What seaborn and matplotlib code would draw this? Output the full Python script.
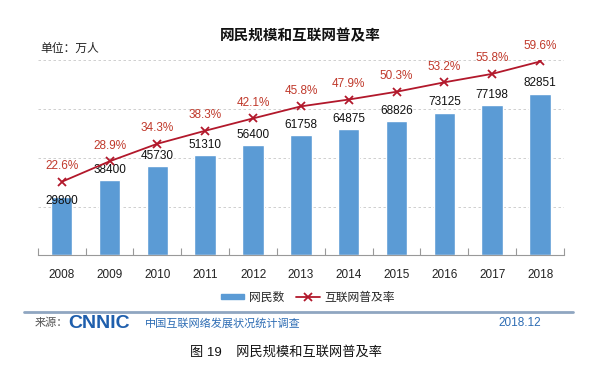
import numpy as np
import pandas as pd
import seaborn as sns
import matplotlib.pyplot as plt
from matplotlib.lines import Line2D
from matplotlib.patches import Patch

# data
years = ["2008", "2009", "2010", "2011", "2012", "2013", "2014", "2015", "2016", "2017", "2018"]
users = [29800, 38400, 45730, 51310, 56400, 61758, 64875, 68826, 73125, 77198, 82851]
rate = [22.6, 28.9, 34.3, 38.3, 42.1, 45.8, 47.9, 50.3, 53.2, 55.8, 59.6]

bar_color = "#5B9BD5"
line_color = "#B2182B"
label_red = "#C0392B"
blue_txt = "#2E6DB4"

sns.set_theme(style="white")
plt.rcParams['font.family'] = ['Liberation Sans', 'Noto Sans CJK SC', 'DejaVu Sans']

df = pd.DataFrame({'year': years, 'users': users, 'rate': rate})

fig = plt.figure(figsize=(6, 3.81), dpi=100)
ax = fig.add_axes([0.063, 0.330, 0.877, 0.512])

sns.barplot(data=df, x='year', y='users', color=bar_color, width=0.45,
            saturation=1, ax=ax, zorder=2)

ax2 = ax.twinx()
sns.lineplot(x=np.arange(len(years)), y=rate, ax=ax2, color=line_color,
             linewidth=1.3, marker='x', markersize=6, markeredgewidth=1.3,
             markeredgecolor=line_color, zorder=4)
ax2.set_ylim(0, 60)
ax2.axis('off')

# the twin shares the x ticker, so set ticks after both plots
ax.set_xlim(-0.5, len(years) - 0.5)
ax.set_xticks(np.arange(len(years)))
ax.set_xticklabels(years)
ax.set_xticks(np.arange(-0.5, len(years)), minor=True)
ax.set_ylim(0, 100000)
ax.set_yticks([0, 25000, 50000, 75000, 100000])
ax.yaxis.grid(True, linestyle=(0, (3, 3)), color="#c8c8c8", linewidth=0.6)
ax.set_axisbelow(True)
ax.tick_params(axis='y', which='both', left=False, right=False, length=0,
               labelleft=False)
ax.tick_params(axis='x', which='major', labelsize=8.5, pad=10, length=0,
               colors="#222222")
ax.tick_params(axis='x', which='minor', direction='in', length=5,
               color="#999999", width=0.8, bottom=True)
ax.set_xlabel("")
ax.set_ylabel("")
for s in ['top', 'right', 'left']:
    ax.spines[s].set_visible(False)
ax.spines['bottom'].set_color("#999999")
ax.spines['bottom'].set_linewidth(0.8)

for i, v in enumerate(users):
    if i == 0:
        ax.annotate(str(v), (i, v), xytext=(0, -3), textcoords='offset points',
                    ha='center', va='center', fontsize=8.5, color="#111111", zorder=5)
    else:
        ax.annotate(str(v), (i, v), xytext=(0, 3), textcoords='offset points',
                    ha='center', va='bottom', fontsize=8.5, color="#111111", zorder=5)

for i, r in enumerate(rate):
    ax2.annotate(f"{r}%", (i, r), xytext=(0, 7), textcoords='offset points',
                 ha='center', va='bottom', fontsize=8.5, color=label_red)

# titles
fig.text(0.5, 0.905, "网民规模和互联网普及率", ha='center', va='center',
         fontsize=10.5, fontweight='bold', color="#111111")
fig.text(0.068, 0.872, "单位：万人", ha='left', va='center', fontsize=8.5, color="#222222")

# legend
handles = [Patch(color=bar_color, label="网民数"),
           Line2D([0], [0], color=line_color, marker='x', markersize=6,
                  markeredgewidth=1.3, linewidth=1.3, label="互联网普及率")]
fig.legend(handles=handles, loc='center', bbox_to_anchor=(0.513, 0.218), ncol=2,
           frameon=False, fontsize=8.5, handlelength=2.0, handleheight=0.35,
           columnspacing=1.0, handletextpad=0.4)

# footer
fig.add_artist(Line2D([0.04, 0.955], [0.181, 0.181], color="#8FA6C1", linewidth=2))
fig.text(0.058, 0.152, "来源：", ha='left', va='center', fontsize=8, color="#555555")
fig.text(0.113, 0.152, "CNNIC", ha='left', va='center', fontsize=14, fontweight='heavy',
         color="#1F5FAD", family=['Liberation Sans'])
fig.text(0.242, 0.152, "中国互联网络发展状况统计调查", ha='left', va='center',
         fontsize=8, color=blue_txt)
fig.text(0.902, 0.152, "2018.12", ha='right', va='center', fontsize=8.5, color=blue_txt)
fig.text(0.477, 0.076, "图 19    网民规模和互联网普及率", ha='center', va='center',
         fontsize=9.5, color="#111111")

fig.savefig("out.png", dpi=100)
